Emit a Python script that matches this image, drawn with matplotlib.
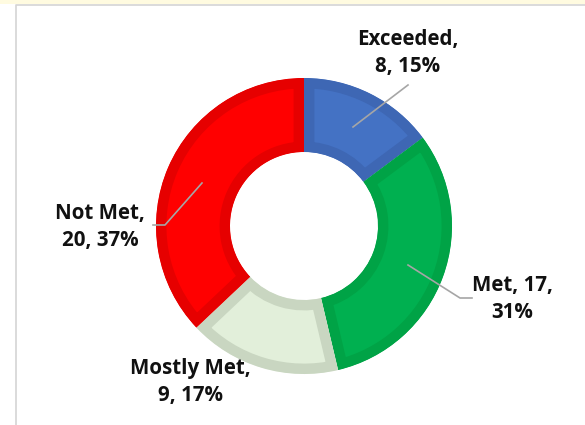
import matplotlib.pyplot as plt
from matplotlib.patches import Rectangle
from matplotlib.lines import Line2D

labels = ["Exceeded", "Met", "Mostly Met", "Not Met"]
counts = [8, 17, 9, 20]
fills = ["#4472C4", "#00B050", "#E2EFDA", "#FF0000"]
edges = ["#3E67B4", "#00A346", "#C9D6C1", "#E60000"]

W, H = 585, 425
fig = plt.figure(figsize=(W / 100, H / 100), dpi=100)
fig.patch.set_facecolor("white")

# frame: yellow strip on top, grey border left/top
fig.add_artist(Rectangle((0, (H - 4) / H), 1, 4 / H, transform=fig.transFigure,
                         facecolor="#FFFBE0", edgecolor="none", zorder=-1))
fig.add_artist(Line2D([15.5 / W, 15.5 / W, 1], [0, (H - 4.5) / H, (H - 4.5) / H],
                      transform=fig.transFigure, color="#D4D4D4", lw=1.2, zorder=-1))

ax = fig.add_axes([0, 0, 1, 1])

cx, cy, r = 304, H - 226, 148
wedges, _ = ax.pie(counts, colors=fills, startangle=90, counterclock=False,
                   center=(cx, cy), radius=r,
                   wedgeprops=dict(width=r * 0.5, linewidth=15, edgecolor="none"))
for w, ec in zip(wedges, edges):
    w.set_edgecolor(ec)
    w.set_clip_on(True)
    w.set_clip_path(w)  # keep border inside the slice
ax.set_xlim(0, W)
ax.set_ylim(0, H)
ax.set_aspect("equal")
ax.axis("off")

total = sum(counts)
pct = [round(c / total * 100) for c in counts]
txt = dict(fontsize=14.8, fontweight="bold", family=["Open Sans", "DejaVu Sans"], color="#111111")

def lab(x, y, s, ha="center"):
    ax.text(x, H - y, s, ha=ha, va="center", linespacing=1.4, **txt)

lab(408, 53, f"{labels[0]},\n{counts[0]}, {pct[0]}%")
lab(512, 299, f"{labels[1]}, {counts[1]},\n{pct[1]}%")
lab(190, 382, f"{labels[2]},\n{counts[2]}, {pct[2]}%")
lab(100, 227, f"{labels[3]},\n{counts[3]}, {pct[3]}%")

lc = "#A6A6A6"
ax.plot([353, 408], [H - 127, H - 85], color=lc, lw=1.2)
ax.plot([408, 460, 472], [H - 265, H - 298, H - 298], color=lc, lw=1.2)
ax.plot([202, 165, 153], [H - 183, H - 225, H - 225], color=lc, lw=1.2)

fig.savefig("out.png", dpi=100)
